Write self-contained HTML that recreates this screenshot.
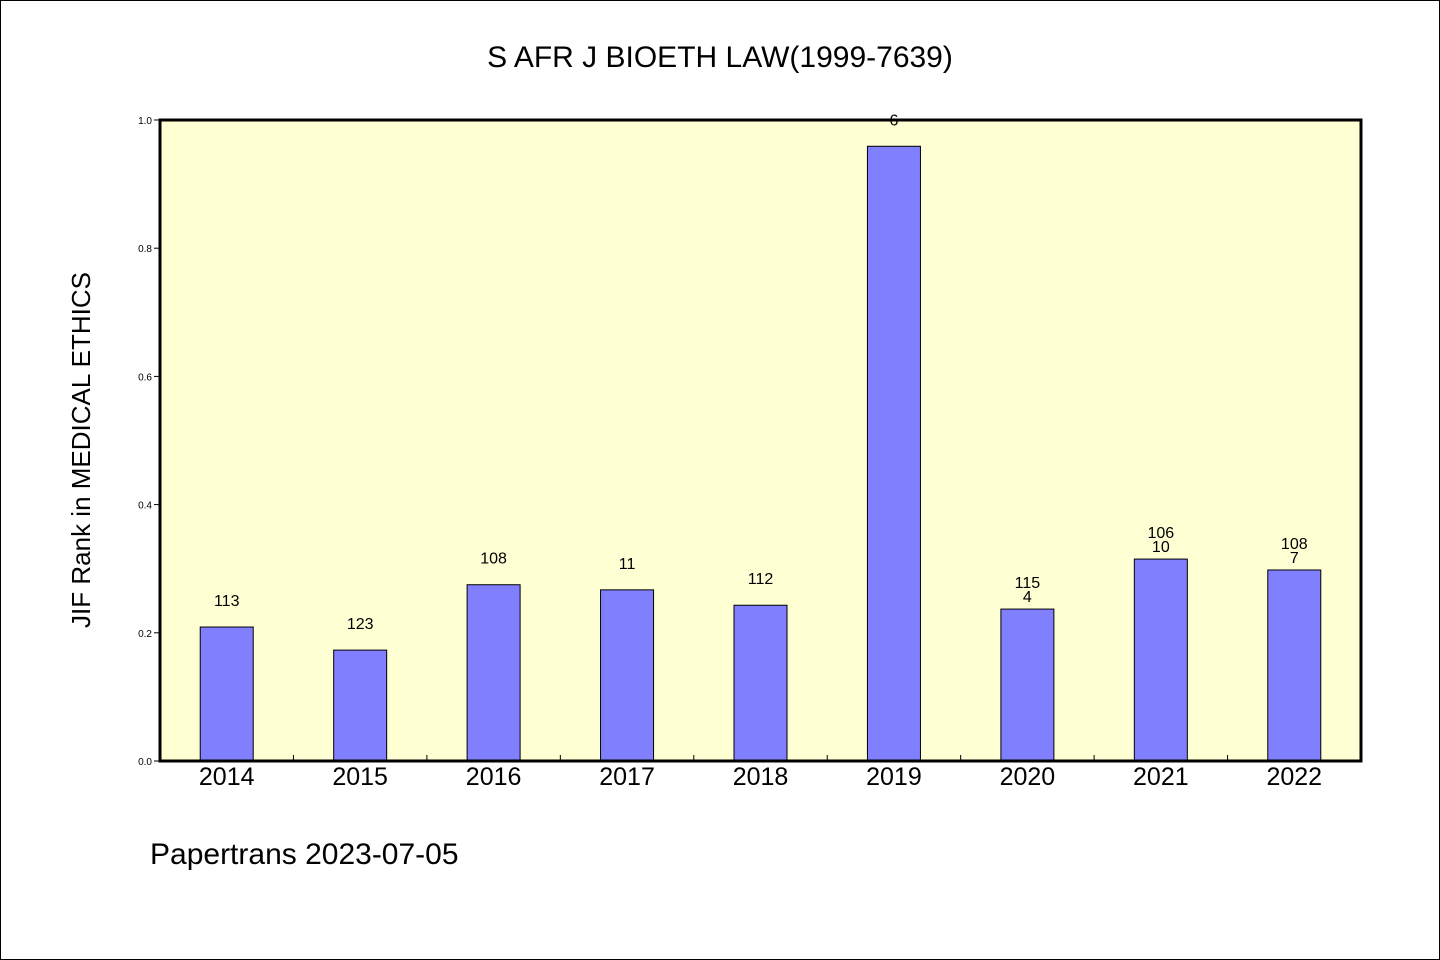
<!DOCTYPE html>
<html><head><meta charset="utf-8"><style>
html,body{margin:0;padding:0;background:#fff;}
svg{display:block;font-family:"WenQuanYi Zen Hei","Liberation Sans",sans-serif;}
</style></head><body>
<svg id="chart" width="1440" height="960" viewBox="0 0 1440 960" xmlns="http://www.w3.org/2000/svg">
<rect x="0.5" y="0.5" width="1439" height="959" fill="#fff" stroke="#000" stroke-width="1"/>
<text x="720" y="67" font-size="30" text-anchor="middle">S AFR J BIOETH LAW(1999-7639)</text>
<rect x="160" y="120" width="1201" height="641" fill="#ffffd4"/>
<g id="bars"></g>
<g id="axes"></g>
<rect x="160" y="120" width="1201" height="641" fill="none" stroke="#000" stroke-width="3"/>
<text transform="translate(90,450) rotate(-90)" font-size="26" text-anchor="middle">JIF Rank in MEDICAL ETHICS</text>
<text x="150" y="864" font-size="30">Papertrans 2023-07-05</text>
</svg>
<script>
const categories = ["2014","2015","2016","2017","2018","2019","2020","2021","2022"];
const values = [0.209,0.173,0.275,0.267,0.243,0.959,0.237,0.315,0.298];
const labelTop = ["113","123","108","11","112","6","115","106","108"];
const labelBottom = ["","","","","","","4","10","7"];
const yTicks = [0,0.2,0.4,0.6,0.8,1.0];
const yTickLabels = ["0.0","0.2","0.4","0.6","0.8","1.0"];

const NS="http://www.w3.org/2000/svg";
const X0=160,X1=1361,Y0=761,Y1=120;
const band=(X1-X0)/categories.length;
const xC=i=>X0+band*(i+0.5);
const y=v=>Y0-(v)*(Y0-Y1);
function mk(tag,attrs,txt){const e=document.createElementNS(NS,tag);for(const k in attrs)e.setAttribute(k,attrs[k]);if(txt!==undefined)e.textContent=txt;return e;}
const gb=document.getElementById('bars'),ga=document.getElementById('axes');
categories.forEach((c,i)=>{
  const bw=53,top=y(values[i]);
  const r=mk('rect',{x:xC(i)-bw/2,y:top,width:bw,height:Y0-top,fill:'#8080ff',stroke:'#000','stroke-width':1});
  
  
  gb.appendChild(r);
  const t1=mk('text',{x:xC(i),y:top-21,'font-size':16,'text-anchor':'middle'},labelTop[i]);
  
  
  gb.appendChild(t1);
  if(labelBottom[i]){
    const t2=mk('text',{x:xC(i),y:top-7,'font-size':16,'text-anchor':'middle'},labelBottom[i]);
    
    
    gb.appendChild(t2);
  }
  const xl=mk('text',{x:xC(i),y:785,'font-size':25,'text-anchor':'middle'},c);
  
  
  ga.appendChild(xl);
  if(i>0){
    const tk=mk('line',{x1:X0+band*i,x2:X0+band*i,y1:Y0,y2:Y0-6,stroke:'#000','stroke-width':1});
    
    
    ga.appendChild(tk);
  }
});
yTicks.forEach((v,i)=>{
  const tk=mk('line',{x1:X0-6,x2:X0,y1:y(v),y2:y(v),stroke:'#000','stroke-width':1});
  
  
  ga.appendChild(tk);
  const tl=mk('text',{x:152,y:y(v)+4,'font-size':10,'text-anchor':'end'},yTickLabels[i]);
  
  
  ga.appendChild(tl);
});
</script>
</body></html>
